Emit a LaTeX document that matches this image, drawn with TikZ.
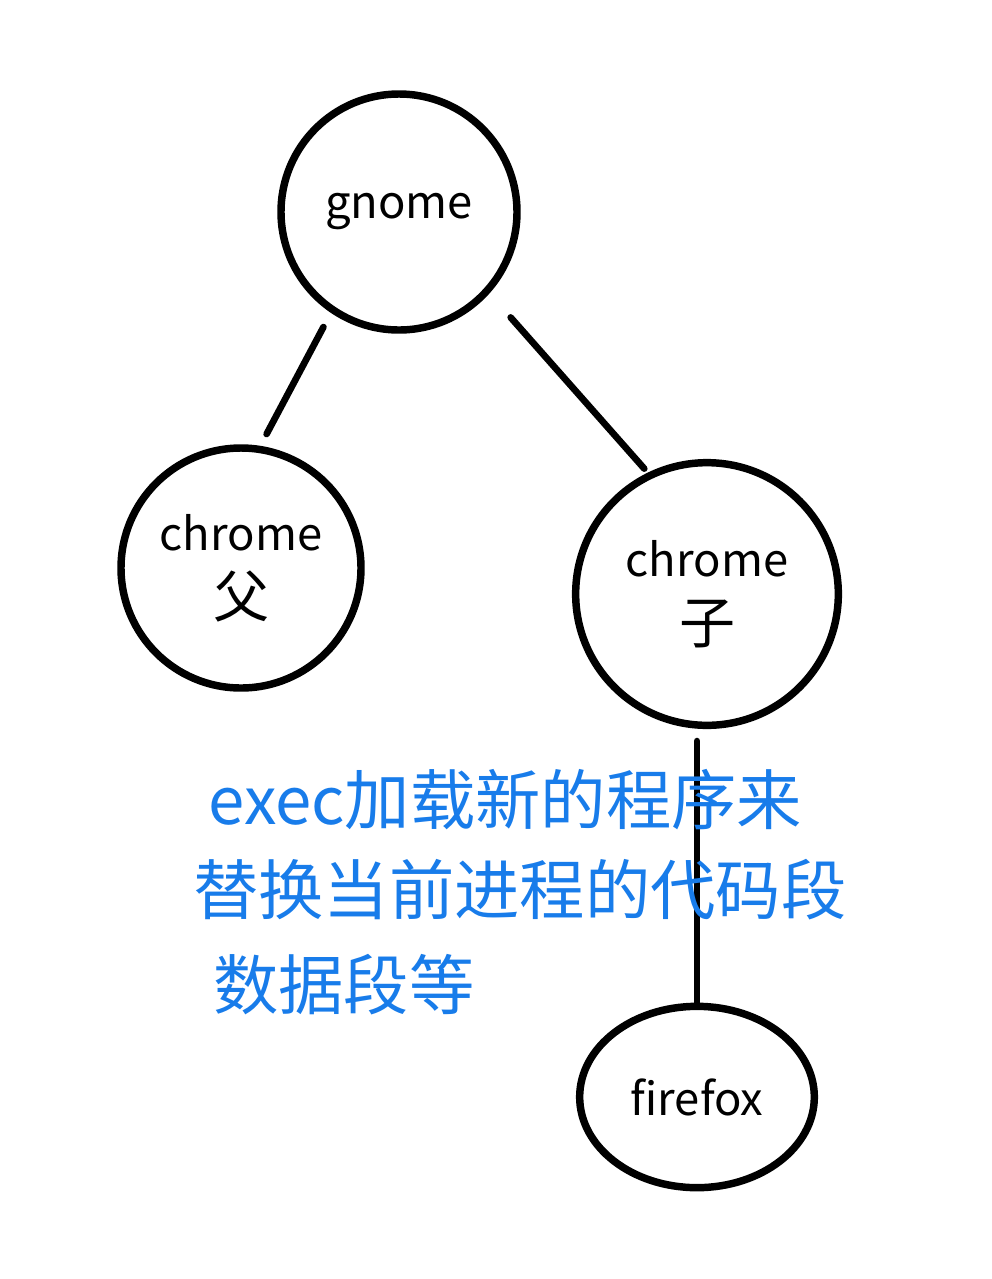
\documentclass[tikz,border=0pt]{standalone}
\usepackage{fontspec}
\setmainfont{Noto Sans CJK SC}
\usepackage{xcolor}
\usetikzlibrary{shapes,positioning,calc}
\definecolor{penblue}{RGB}{24,124,234}

\begin{document}
\begin{tikzpicture}[x=0.75pt,y=-0.75pt,
  proc/.style={draw, circle, line width=5.6pt, align=center, inner sep=0pt, font=\fontsize{34}{50}\selectfont},
  link/.style={line width=5pt, line cap=round},
  note/.style={text=penblue, anchor=west, inner sep=0pt, font=\fontsize{49}{50}\selectfont}]
\useasboundingbox (0,0) rectangle (992,1279);
\node[proc, minimum size=177pt] (gnome) at (399,212) {gnome};
\node[proc, minimum size=180pt] (chromep) at (241,568) {chrome\\\fontsize{42}{42}\selectfont 父};
\node[proc, minimum size=197pt] (chromec) at (707,594) {chrome\\\fontsize{42}{42}\selectfont 子};
\node[proc, ellipse, minimum width=176pt, minimum height=136pt] (firefox) at (697,1097) {firefox};
\draw[link, shorten <=12pt, shorten >=10pt] (gnome.236) -- (chromep.81);
\draw[link, shorten <=24pt, shorten >=4pt] (gnome.318) -- (chromec.116);
\draw[link, shorten >=9pt] (firefox.north) -- (firefox.north |- chromec.south);
\node[note] (line1) at (208,800) {exec加载新的程序来};
\node[note] (line2) at (193,890) {替换当前进程的代码段};
\node[note] (line3) at (213,985) {数据段等};
\end{tikzpicture}
\end{document}
